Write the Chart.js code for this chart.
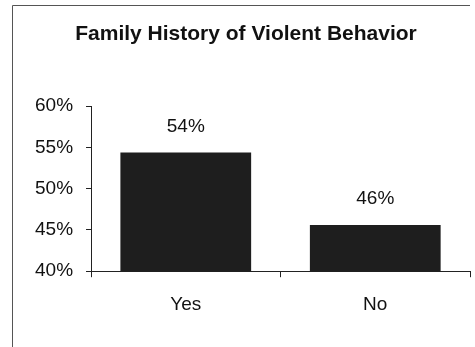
<!DOCTYPE html>
<html>
<head>
<meta charset="utf-8">
<script src="https://cdn.jsdelivr.net/npm/chart.js@4/dist/chart.umd.min.js"></script>
<style>
  html, body { margin: 0; padding: 0; background: #fff; }
  #wrap { width: 475px; height: 347px; position: relative; }
</style>
</head>
<body>
<div id="wrap"><canvas id="grafica" width="475" height="347"></canvas></div>
<script>
// Datos del gráfico
const categorias = ['Yes', 'No'];
const valores = [54.4, 45.6];
const etiquetas = ['54%', '46%'];
const ticksY = [40, 45, 50, 55, 60];

const fuente = "'Liberation Sans', Arial, sans-serif";

// Marco exterior (solo izquierda y arriba, como en la imagen)
const marco = {
    id: 'marco',
    beforeDraw(chart) {
        const ctx = chart.ctx;
        ctx.save();
        ctx.strokeStyle = '#555';
        ctx.lineWidth = 1;
        ctx.beginPath();
        ctx.moveTo(12.5, 347);
        ctx.lineTo(12.5, 5.5);
        ctx.lineTo(470, 5.5);
        ctx.stroke();
        ctx.restore();
    }
};

// Etiquetas de valor sobre cada barra
const etiquetasBarras = {
    id: 'etiquetasBarras',
    afterDatasetsDraw(chart) {
        const ctx = chart.ctx;
        const meta = chart.getDatasetMeta(0);
        ctx.save();
        ctx.font = '19px ' + fuente;
        ctx.fillStyle = '#111';
        ctx.textAlign = 'center';
        ctx.textBaseline = 'middle';
        meta.data.forEach((barra, i) => {
            ctx.fillText(etiquetas[i], barra.x, barra.y - 26);
        });
        ctx.restore();
    }
};

new Chart(document.getElementById('grafica'), {
    type: 'bar',
    data: {
        labels: categorias,
        datasets: [{
            data: valores,
            backgroundColor: '#1e1e1e',
            borderWidth: 0,
            barPercentage: 0.69,
            categoryPercentage: 1
        }]
    },
    options: {
        responsive: false,
        animation: false,
        layout: { padding: { left: 22, right: 5, top: 0, bottom: 15 } },
        plugins: {
            legend: { display: false },
            tooltip: { enabled: false },
            title: {
                display: true,
                text: 'Family History of Violent Behavior',
                color: '#111',
                font: { family: fuente, size: 21, weight: 'bold' },
                padding: { top: 22, bottom: 59 }
            }
        },
        scales: {
            x: {
                grid: { display: true, drawOnChartArea: false, drawTicks: true, tickLength: 6, color: '#222', offset: true },
                border: { display: true, color: '#222' },
                ticks: { color: '#111', padding: 16, font: { family: fuente, size: 19 } }
            },
            y: {
                min: ticksY[0],
                max: ticksY[ticksY.length - 1],
                afterBuildTicks(axis) {
                    axis.ticks = ticksY.map(v => ({ value: v }));
                },
                grid: { display: true, drawOnChartArea: false, drawTicks: true, tickLength: 5, color: '#222' },
                border: { display: true, color: '#222' },
                ticks: {
                    color: '#111',
                    padding: 13,
                    font: { family: fuente, size: 19 },
                    callback: v => v + '%'
                }
            }
        }
    },
    plugins: [marco, etiquetasBarras]
});
</script>
</body>
</html>
